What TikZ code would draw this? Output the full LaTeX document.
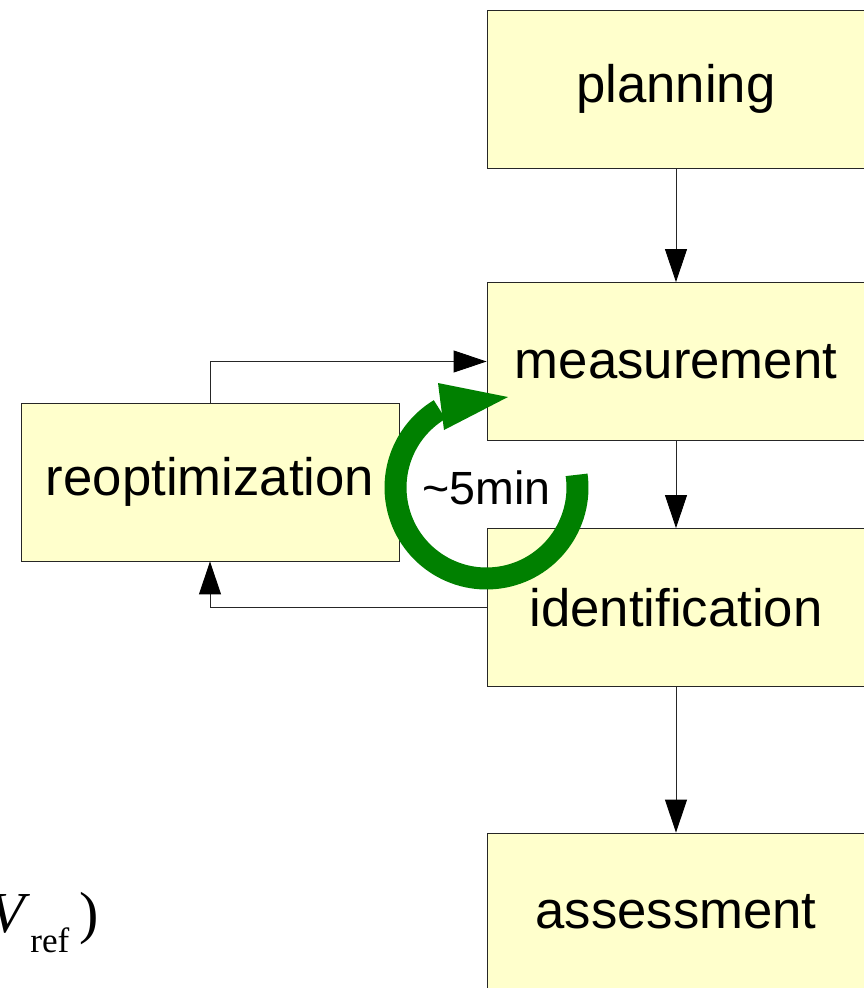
\documentclass[tikz,border=0pt]{standalone}
\usepackage{fontspec}
\setmainfont{Liberation Sans}
\newfontfamily\timesfont{Liberation Serif}
\usetikzlibrary{arrows.meta}
\definecolor{boxyellow}{RGB}{255,255,204}
\definecolor{loopgreen}{RGB}{0,128,0}
\tikzstyle{stage}=[draw=black!85,line width=0.5pt,fill=boxyellow,minimum width=7.56cm,minimum height=3.16cm,inner sep=0pt,font=\fontsize{30}{36}\selectfont]
\tikzstyle{flow}=[draw=black!85,line width=0.5pt,-{Triangle[length=0.66cm,width=0.44cm,color=black]}]
\tikzstyle{loopband}=[draw=loopgreen,line width=0.44cm]

\begin{document}
\begin{tikzpicture}[x=0.02cm,y=-0.02cm] % pixel grid, y downwards
\useasboundingbox (0,0) rectangle (864,988);

\node[stage] (planning) at (676,89) {planning};
\node[stage] (measure) at (676,361.5) {measurement};
\node[stage] (ident) at (676,607.5) {identification};
\node[stage] (assess) at (676,912) {assessment};
\node[stage] (reopt) at (210,482) {reoptimization};

\draw[flow] (planning) -- (measure);
\draw[flow] (measure) -- (ident);
\draw[flow] (ident) -- (assess);
\draw[flow] (reopt.north) |- (measure.west);
\draw[flow] (ident.west) -| (reopt.south);

% the ~5min cycle
\coordinate (loopc) at (486.5,487.5);
\draw[loopband] (loopc) ++(8:1.82cm) arc[start angle=8,end angle=-239,radius=1.82cm];
\fill[loopgreen] (438,383) -- (444,430) -- (508,397) -- cycle;
\node[font=\fontsize{26.5}{30}\selectfont] (looptime) at (loopc) {\textasciitilde 5min};

\node[anchor=base west,inner sep=0pt,font=\timesfont\fontsize{33}{38}\selectfont] (vref) at (-11,932) {\textit{V}\raisebox{-0.35em}{\fontsize{20}{24}\selectfont ref}\,)};
\end{tikzpicture}
\end{document}
